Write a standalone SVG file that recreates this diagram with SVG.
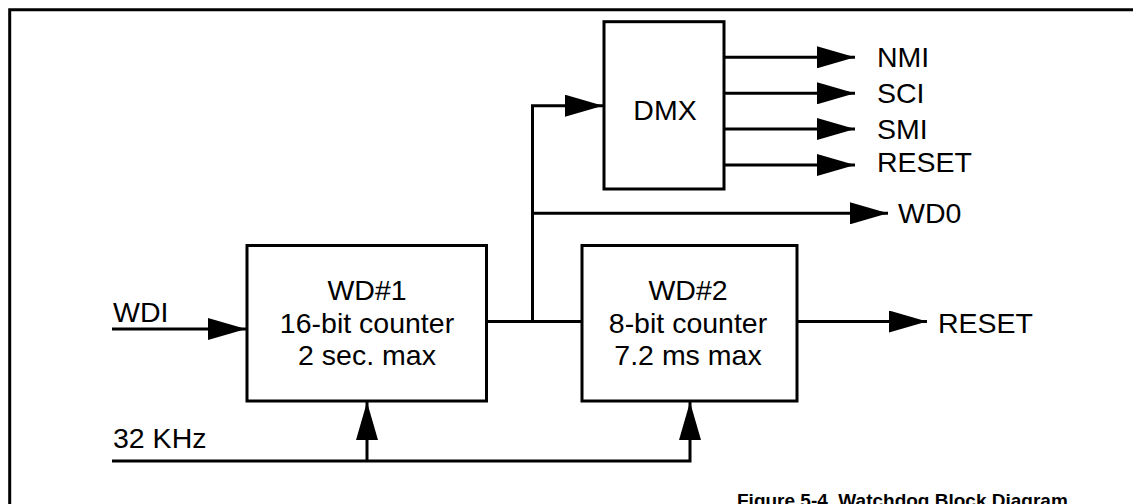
<svg xmlns="http://www.w3.org/2000/svg" width="1133" height="504" viewBox="0 0 1133 504">
<style>
.box{fill:#fff;stroke:#000;stroke-width:3}
.ln{fill:none;stroke:#000;stroke-width:3}
.t{font-family:"Liberation Sans",Arial,Helvetica,sans-serif;font-size:28.5px;fill:#000}
.c{text-anchor:middle}
.cap{font-family:"Liberation Sans",Arial,Helvetica,sans-serif;font-size:19px;font-weight:bold;fill:#000}
</style>
<defs>
<marker id="ah" markerUnits="userSpaceOnUse" markerWidth="38" markerHeight="22" viewBox="0 0 38 22" refX="38" refY="11" orient="auto">
<path d="M0,0 L38,11 L0,22 Z" fill="#000"/>
</marker>
</defs>
<rect width="1133" height="504" fill="#fff"/>
<g id="frame">
<path d="M9.7,520 L9.7,9.7 L1140,9.7" fill="none" stroke="#000" stroke-width="3"/>
</g>
<g id="connectors">
<line class="ln" x1="112" y1="329" x2="246" y2="329" marker-end="url(#ah)"/>
<line class="ln" x1="486" y1="321.5" x2="582" y2="321.5"/>
<polyline class="ln" points="532.5,321.5 532.5,105.7 603,105.7" marker-end="url(#ah)"/>
<line class="ln" x1="532.5" y1="213.3" x2="888" y2="213.3" marker-end="url(#ah)"/>
<line class="ln" x1="724" y1="57.3" x2="855" y2="57.3" marker-end="url(#ah)"/>
<line class="ln" x1="724" y1="93.3" x2="855" y2="93.3" marker-end="url(#ah)"/>
<line class="ln" x1="724" y1="129" x2="855" y2="129" marker-end="url(#ah)"/>
<line class="ln" x1="724" y1="165" x2="855" y2="165" marker-end="url(#ah)"/>
<line class="ln" x1="797" y1="321.5" x2="927" y2="321.5" marker-end="url(#ah)"/>
<polyline class="ln" points="112,461 690,461 690,402" marker-end="url(#ah)"/>
<line class="ln" x1="367" y1="461" x2="367" y2="402" marker-end="url(#ah)"/>
</g>
<g id="wd1">
<rect class="box" x="247" y="245.5" width="239.5" height="155.5"/>
<text class="t c" x="367" y="300">WD#1</text>
<text class="t c" x="367" y="333">16-bit counter</text>
<text class="t c" x="367" y="365">2 sec. max</text>
</g>
<g id="wd2">
<rect class="box" x="582" y="245.5" width="215" height="155.5"/>
<text class="t c" x="688" y="300">WD#2</text>
<text class="t c" x="688" y="333">8-bit counter</text>
<text class="t c" x="688" y="365">7.2 ms max</text>
</g>
<g id="dmx">
<rect class="box" x="604" y="21.7" width="120" height="167.3"/>
<text class="t c" x="665" y="120">DMX</text>
</g>
<g id="labels">
<text class="t" x="113" y="322">WDI</text>
<text class="t" x="113" y="448">32 KHz</text>
<text class="t" x="877" y="66.7">NMI</text>
<text class="t" x="877" y="102.7">SCI</text>
<text class="t" x="877" y="138.7">SMI</text>
<text class="t" x="877" y="171.7">RESET</text>
<text class="t" x="898" y="223.3">WD0</text>
<text class="t" x="938" y="332.7">RESET</text>
</g>
<text class="cap" x="737" y="507">Figure 5-4. Watchdog Block Diagram</text>
</svg>
